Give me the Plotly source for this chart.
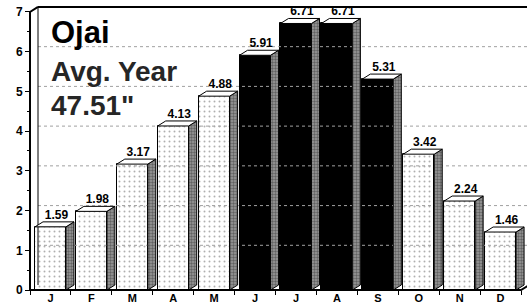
import plotly.graph_objects as go

months = ["J", "F", "M", "A", "M", "J", "J", "A", "S", "O", "N", "D"]
rain = [1.59, 1.98, 3.17, 4.13, 4.88, 5.91, 6.71, 6.71, 5.31, 3.42, 2.24, 1.46]
wet_months = [5, 6, 7, 8]  # indices drawn solid black (Jun-Sep)
y_ticks = [0, 1, 2, 3, 4, 5, 6, 7]
title_lines = ["Ojai", "Avg. Year", "47.51\""]

FONT = "Liberation Sans, Arial, Helvetica, sans-serif"
W, H = 527, 306
ML, MR, MT, MB = 22, 0, 4, 12
px_x = 40.92   # px per category
dx = 8 / px_x  # depth offset in category units
bw = 0.757
x0 = -0.5 - 8 / px_x
xr = [x0, x0 + (W - ML - MR) / px_x]
ymin, ymax = -0.1, 7.2
px_y = (H - MT - MB) / (ymax - ymin)
dy = 5 / px_y

fig = go.Figure()

# back-wall gridlines
for v in y_ticks[1:-1]:
    fig.add_trace(go.Scatter(x=[-0.5 + dx, xr[1]], y=[v + dy, v + dy], mode="lines",
                             line=dict(color="#a0a0a0", width=1, dash="dot"),
                             hoverinfo="skip", showlegend=False))
# back wall left edge & top border
fig.add_trace(go.Scatter(x=[-0.5 + dx, -0.5 + dx], y=[dy, 7 + dy], mode="lines",
                         line=dict(color="black", width=1), hoverinfo="skip", showlegend=False))
fig.add_trace(go.Scatter(x=[-0.5 + dx, xr[1]], y=[7 + dy, 7 + dy], mode="lines",
                         line=dict(color="black", width=2), hoverinfo="skip", showlegend=False))

xs = list(range(len(months)))
light_x = [i for i in xs if i not in wet_months]
dark_x = [i for i in xs if i in wet_months]

fig.add_trace(go.Bar(x=light_x, y=[rain[i] for i in light_x], width=bw,
                     marker=dict(color="white", line=dict(color="black", width=1),
                                 pattern=dict(shape=".", fgcolor="#606060", bgcolor="white",
                                              size=5, solidity=0.12)),
                     hoverinfo="skip", showlegend=False))
fig.add_trace(go.Bar(x=dark_x, y=[rain[i] for i in dark_x], width=bw,
                     marker=dict(color="black", line=dict(color="black", width=1)),
                     hoverinfo="skip", showlegend=False))

# side faces and top faces
sx, sy = [], []
tx, ty = [], []
for i, v in zip(xs, rain):
    r = i + bw / 2
    l = i - bw / 2
    sx += [r, r + dx, r + dx, r, r, None]
    sy += [0, dy, v + dy, v, 0, None]
    tx += [l, l + dx, r + dx, r, l, None]
    ty += [v, v + dy, v + dy, v, v, None]
fig.add_trace(go.Scatter(x=sx, y=sy, mode="lines", fill="toself",
                         fillcolor="#888888",
                         fillpattern=dict(shape=".", fgcolor="#2a2a2a", bgcolor="#9a9a9a",
                                          size=3, solidity=0.5),
                         line=dict(color="black", width=1), hoverinfo="skip", showlegend=False))
fig.add_trace(go.Scatter(x=tx, y=ty, mode="lines", fill="toself", fillcolor="white",
                         line=dict(color="black", width=1), hoverinfo="skip", showlegend=False))

# value labels
fig.add_trace(go.Scatter(x=[i + 0.75 * dx for i in xs], y=[v + dy for v in rain], mode="text",
                         text=[f"{v:.2f}" for v in rain], textposition="top center",
                         textfont=dict(family=FONT, size=12, color="black", weight="bold"),
                         cliponaxis=False, hoverinfo="skip", showlegend=False))

# axis lines (front)
fig.add_trace(go.Scatter(x=[-0.5, -0.5, -0.5 + dx], y=[0, 7, 7 + dy], mode="lines",
                         line=dict(color="black", width=2), hoverinfo="skip", showlegend=False))
fig.add_trace(go.Scatter(x=[-0.5, 11.5, 11.5 + dx], y=[0, 0, dy], mode="lines",
                         line=dict(color="black", width=2), hoverinfo="skip", showlegend=False))

fig.update_layout(
    width=W, height=H, margin=dict(l=ML, r=MR, t=MT, b=MB, autoexpand=False),
    paper_bgcolor="white", plot_bgcolor="white", bargap=0,
    font=dict(family=FONT, color="black"),
    xaxis=dict(range=xr, tickvals=xs, ticktext=months, showgrid=False, zeroline=False,
               showline=False, ticks="", ticklen=0,
               automargin=False,
               tickfont=dict(family=FONT, size=11, color="black", weight="bold"),
               anchor="free", position=(0 - ymin) / (ymax - ymin),
               minor=dict(tickvals=[i - 0.5 for i in range(len(months) + 1)], ticks="outside",
                          ticklen=4, tickcolor="black", tickwidth=1, showgrid=False)),
    yaxis=dict(range=[ymin, ymax], tickvals=y_ticks, showgrid=False, zeroline=False,
               showline=False, ticks="outside", ticklen=5, tickwidth=1, tickcolor="black",
               automargin=False,
               tickfont=dict(family=FONT, size=12, color="black", weight="bold"),
               anchor="free", position=(-0.5 - x0) / (xr[1] - x0),
               minor=dict(dtick=0.5, tick0=0, ticks="outside", ticklen=3, tickcolor="black",
                          showgrid=False)),
)

pw = W - ML - MR
ph = H - MT - MB
def ann(text, py, size, color):
    fig.add_annotation(text=f"<b>{text}</b>", xref="paper", yref="paper",
                       x=(49 - ML) / pw, y=(H - MB - py) / ph, xanchor="left", yanchor="middle",
                       showarrow=False, font=dict(family=FONT, size=size, color=color))
ann(title_lines[0], 33, 31, "black")
ann(title_lines[1], 71, 28, "#262626")
ann(title_lines[2], 105, 28, "#262626")

fig.write_html("out.html", config={"displayModeBar": False},
               post_script="document.body.style.margin='0px';document.body.style.overflow='hidden';")
